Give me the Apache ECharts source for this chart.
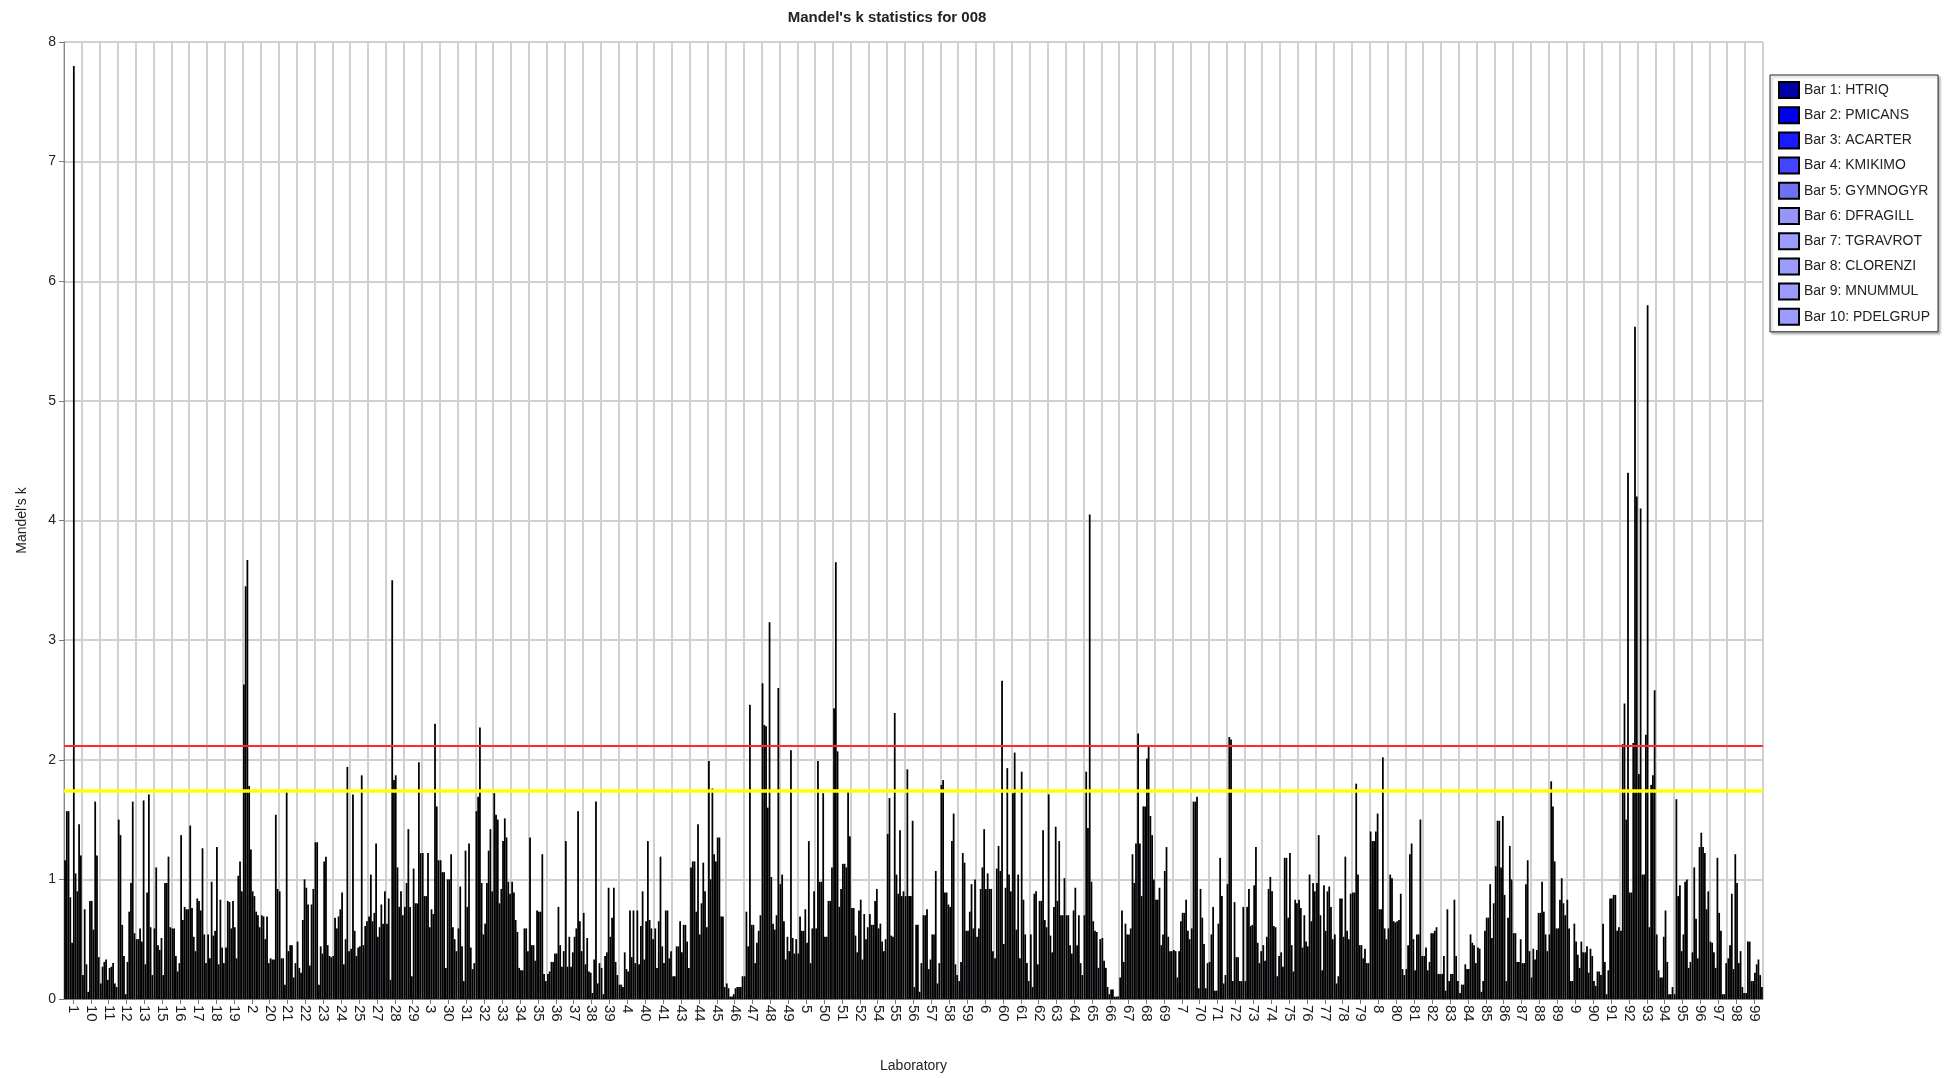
<!DOCTYPE html>
<html><head><meta charset="utf-8">
<script src="https://cdn.jsdelivr.net/npm/echarts@6/dist/echarts.min.js"></script>
<style>html,body{margin:0;padding:0;background:#fff}#c{width:1954px;height:1078px}</style>
</head><body><div id="c"></div>
<script>
const labs = ['1','10','11','12','13','15','16','17','18','19','2','20','21','22','23','24','25','27','28','29','3','30','31','32','33','34','35','36','37','38','39','4','40','41','43','44','45','46','47','48','49','5','50','51','52','54','55','56','57','58','59','6','60','61','62','63','64','65','66','67','68','69','7','70','71','72','73','74','75','76','77','78','79','8','80','81','82','83','84','85','86','87','88','89','9','90','91','92','93','94','95','96','97','98','99'];

const seriesNames = ['Bar 1: HTRIQ','Bar 2: PMICANS','Bar 3: ACARTER','Bar 4: KMIKIMO','Bar 5: GYMNOGYR','Bar 6: DFRAGILL','Bar 7: TGRAVROT','Bar 8: CLORENZI','Bar 9: MNUMMUL','Bar 10: PDELGRUP'];

const bar1 = [1.16,0.2,0.13,1.5,0.5,0.59,0.59,1.45,0.54,0.43, 2.63,0.7,0.9,0.48,1.31,0.36,0.42,0.69,0.63,0.77, 1.22,1.16,0.59,1.57,1.72,0.98,1.35,0.21,1.32,0.72, 0.26,0.12,0.74,0.59,0.19,1.1,1.99,0.13,0.19,2.64, 0.96,0.38,0.59,2.43,0.76,0.71,1.38,0.86,0.7,1.79, 0.15,0.52,0.34,1.72,0.54,1.71,0.7,0.7,0.51,0.18, 2.22,0.83,0.41,0.59,0.31,0.96,0.15,0.45,0.39,0.83, 0.97,0.54,0.89,1.4,0.59,0.25,0.36,0.21,0.05,0.43, 1.11,0.55,0.18,0.54,0.83,0.39,0.63,0.57,1.88,0.54, 0.04,0.39,0.48,0.34,0.05];
const bar2 = [1.57,0.75,0.27,1.37,0.5,1.1,0.59,0.76,0.34,0.82, 3.45,0.69,0.34,0.26,1.31,0.68,1.71,1.04,0.84,0.97, 0.86,1.06,0.94,1.69,1.54,0.89,0.45,0.23,0.27,0.29, 0.04,0.12,0.29,0.26,0.19,1.15,1.0,0.09,0.73,2.29, 1.04,0.69,1.99,3.65,0.76,0.62,1.68,1.92,0.7,1.83, 0.31,0.59,1.09,2.06,0.1,0.53,0.7,1.9,0.32,0.74, 1.3,0.83,0.4,1.65,0.54,2.19,0.77,0.32,0.27,0.76, 1.37,0.13,0.89,1.32,1.04,0.45,0.43,0.36,0.12,0.42, 1.49,0.55,0.42,1.82,0.59,0.44,0.31,2.13,4.1,0.24, 1.67,1.1,0.47,0.45,0.48];
const bar3 = [1.57,0.29,0.31,0.62,0.59,0.45,0.36,0.52,0.98,0.81, 3.67,0.5,0.34,0.22,0.12,0.59,0.57,0.65,0.16,1.42, 0.86,1.06,0.44,2.27,1.5,0.66,0.45,0.31,0.52,0.51, 0.36,0.1,0.61,0.65,0.44,1.15,1.76,0.02,0.44,2.28, 0.65,0.57,0.98,2.07,0.53,0.62,0.53,0.86,0.75,0.89, 1.22,0.92,1.28,0.58,0.88,0.39,0.45,1.43,0.26,0.31, 0.86,0.93,0.18,1.65,0.77,2.17,0.92,0.52,1.18,0.43, 0.7,0.19,1.8,1.32,1.01,1.21,0.24,0.07,0.12,0.06, 1.49,0.31,0.33,1.61,0.15,0.22,0.04,2.47,1.04,0.18, 0.86,0.67,0.39,0.88,0.48];
const bar4 = [0.85,0.06,0.33,0.36,0.48,0.41,0.23,0.4,0.53,0.59, 1.78,0.69,0.12,0.66,0.44,0.69,0.36,0.72,3.5,0.77, 1.22,0.26,0.15,0.97,0.8,0.56,0.32,0.31,0.27,0.23, 0.39,0.39,0.9,1.19,0.44,0.73,1.21,0.02,2.46,1.6, 0.33,0.57,0.98,0.77,0.39,0.82,0.52,0.86,0.25,0.89, 1.14,1.1,1.07,1.04,0.9,0.77,0.38,4.05,0.1,0.63, 1.61,0.45,0.4,1.69,0.07,0.15,0.61,0.92,1.18,0.7, 0.24,0.84,1.04,1.4,0.65,1.3,0.31,0.75,0.29,0.15, 1.1,0.31,0.41,1.15,0.15,0.42,0.24,1.5,1.04,0.18, 0.95,0.34,0.26,0.25,0.15];
const bar5 = [0.47,0.82,0.16,0.04,1.66,0.51,0.3,0.84,0.57,0.82, 1.25,0.3,1.75,1.0,0.38,0.75,0.43,1.3,1.83,0.19, 0.6,1.0,1.24,0.54,0.92,0.26,0.74,0.38,0.39,0.22, 0.93,0.25,0.33,0.44,0.65,1.46,1.15,0.04,0.62,3.15, 0.52,0.75,1.72,0.92,0.74,0.92,2.39,1.49,0.33,0.79, 0.57,1.42,2.66,0.34,0.29,1.44,0.74,0.98,0.04,0.54, 1.61,0.54,0.65,0.09,0.07,0.81,0.62,1.02,0.68,0.48, 0.95,0.84,0.45,1.55,0.64,0.5,0.55,0.15,0.25,0.57, 1.53,0.5,0.72,0.59,0.63,0.36,0.84,4.4,2.21,0.52, 0.4,1.27,1.18,1.21,0.15];
const bar6 = [7.8,0.82,0.26,0.31,0.29,0.2,1.37,0.82,1.27,0.6, 0.9,0.34,0.4,0.93,1.15,0.89,0.44,0.52,1.87,1.09, 0.75,1.0,0.77,0.63,1.32,0.24,0.73,0.38,0.52,0.05, 0.52,0.23,0.65,0.3,0.39,0.54,1.35,0.09,0.62,1.02, 0.4,0.47,0.52,1.13,0.83,0.59,1.04,0.1,0.54,0.77, 0.57,0.92,0.46,1.9,0.82,0.82,0.93,0.65,0.08,0.54, 2.01,1.07,0.72,0.92,0.63,0.35,0.95,0.9,1.22,0.44, 0.57,0.52,0.45,0.75,0.65,0.24,0.55,0.21,0.25,0.68, 0.87,0.3,0.72,0.59,0.48,0.15,0.84,0.89,5.8,0.74, 0.54,1.39,0.72,0.97,0.22];
const bar7 = [1.05,0.58,0.27,0.73,0.89,0.97,0.66,0.74,0.29,0.34, 0.86,0.33,0.45,0.79,1.19,0.29,1.87,0.6,1.1,0.8, 0.71,1.21,1.3,0.97,1.51,0.24,0.73,0.77,0.59,0.33, 0.68,0.74,1.32,0.74,0.62,0.8,1.35,0.1,0.3,0.63, 2.08,1.32,0.52,1.13,0.33,0.63,0.88,0.62,0.54,1.32, 0.73,1.05,0.93,0.83,0.82,1.32,0.45,0.57,0.08,0.59, 2.12,1.27,0.72,0.68,1.18,0.35,1.27,0.61,0.45,1.04, 0.9,1.19,0.34,0.75,0.66,0.54,0.57,0.21,0.54,0.68, 0.15,0.3,0.98,0.83,0.37,0.11,0.87,0.89,0.6,0.31, 0.98,1.27,0.57,0.3,0.29];
const bar8 = [0.9,1.65,0.3,0.97,1.71,0.97,0.77,1.26,0.83,1.03, 0.73,0.33,0.45,0.28,0.45,0.5,0.45,0.79,0.77,0.8, 2.3,0.6,0.43,1.24,1.35,0.59,1.21,0.45,1.57,1.65, 0.93,0.35,0.66,0.74,0.62,1.14,0.69,0.1,0.47,0.58, 0.51,0.3,0.82,1.1,0.71,0.48,1.41,0.62,1.07,1.55, 0.96,0.92,1.93,0.54,1.41,0.7,0.7,0.56,0.02,1.21, 1.53,0.52,0.83,0.46,0.86,0.15,0.47,0.6,0.23,0.65, 0.94,0.57,0.42,2.02,0.88,0.54,0.6,0.83,0.47,0.96, 0.68,0.96,0.73,1.01,0.26,0.23,0.87,2.14,1.79,0.04, 1.0,1.22,0.04,0.4,0.33];
const bar9 = [1.46,1.2,0.13,1.65,0.6,1.19,0.75,0.54,0.43,1.15, 0.7,1.54,0.18,0.79,0.36,1.94,0.61,0.63,0.9,1.98, 1.61,0.5,0.25,1.42,0.98,0.59,0.21,0.27,0.65,0.13, 0.31,0.74,0.59,0.34,0.48,0.9,0.69,0.1,0.57,0.7, 0.38,0.59,0.82,1.74,0.5,0.4,0.86,0.06,0.13,0.29, 0.59,0.92,1.04,0.3,0.66,0.7,0.3,0.26,0.02,0.97, 1.37,0.4,0.57,0.09,0.13,0.15,0.3,0.19,0.83,0.97, 0.77,0.5,0.3,0.59,0.25,1.5,0.21,0.36,0.45,0.51, 1.28,1.16,0.54,0.8,0.48,0.23,0.57,5.62,1.87,0.04, 0.26,0.75,0.04,0.1,0.2];
const bar10 = [1.2,0.35,0.1,0.55,0.2,0.6,0.75,0.3,0.3,0.9, 0.6,0.92,0.3,0.92,0.35,0.4,0.65,0.9,0.7,1.22, 1.16,0.4,0.3,0.9,0.88,0.4,0.15,0.4,0.4,0.3, 0.2,0.3,0.5,0.4,0.26,0.6,0.1,0.19,0.7,2.6, 0.5,0.9,1.1,1.36,0.6,0.5,0.9,0.3,0.3,0.2, 1.0,0.4,0.9,0.15,0.6,1.01,0.2,0.5,0.02,1.3, 1.0,0.4,0.5,0.3,0.2,0.77,0.4,0.36,0.8,0.9, 0.5,0.88,0.3,0.5,0.2,0.36,0.21,0.15,0.3,0.8, 1.0,0.4,0.4,0.7,0.39,0.2,0.6,4.2,2.58,0.1, 0.31,0.9,0.3,0.05,0.1];

// flagged bars: [laboratory, bar index]
const redFlags = [['2',1],['72',2],['92',4],['92',9],['93',5],['93',9]];
const yellowFlags = [['29',8],['45',2],['51',8],['65',1],['89',1]];

const limit1 = 2.12;   // red critical line
const limit5 = 1.735;  // yellow critical line

const allBars = [bar1,bar2,bar3,bar4,bar5,bar6,bar7,bar8,bar9,bar10];
const colors = ['#0000a8','#0000ee','#1a1aff','#4545ff','#7070f2','#9696f8','#9c9cff','#9c9cff','#9c9cff','#9c9cff'];
const FONT = 'Liberation Sans, Arial, sans-serif';

function flagColor(lab, s){
  if (redFlags.some(f => f[0]===lab && f[1]===s)) return '#ff0000';
  if (yellowFlags.some(f => f[0]===lab && f[1]===s)) return '#ffff00';
  return null;
}

const series = allBars.map((arr, s) => ({
  name: seriesNames[s],
  type: 'bar',
  barGap: '0%',
  barCategoryGap: '2%',
  z: 3,
  itemStyle: { color: colors[s], borderColor: '#000', borderWidth: 1.2 },
  emphasis: { disabled: true },
  data: arr.map((v, i) => {
    const c = flagColor(labs[i], s);
    return c ? { value: v, itemStyle: { color: c } } : v;
  })
}));
series.push({
  type: 'line', data: [], z: 1, silent: true,
  markLine: {
    symbol: 'none', silent: true, label: { show: false }, animation: false,
    data: [
      { yAxis: limit1, lineStyle: { color: '#ff2a2a', width: 2, type: 'solid' } },
      { yAxis: limit5, lineStyle: { color: '#ffff00', width: 3.5, type: 'solid' } }
    ]
  }
});

const chart = echarts.init(document.getElementById('c'));
chart.setOption({
  animation: false,
  backgroundColor: '#ffffff',
  title: {
    text: "Mandel's k statistics for 008",
    left: 882, top: 5, textAlign: 'center',
    textStyle: { fontSize: 15, fontWeight: 'bold', color: '#222', fontFamily: FONT }
  },
  legend: {
    orient: 'vertical', left: 1770, top: 75,
    icon: 'rect', itemWidth: 20, itemHeight: 16, itemGap: 7.2,
    padding: [6, 8, 6, 8],
    borderColor: '#222', borderWidth: 1, backgroundColor: '#fff',
    shadowColor: 'rgba(0,0,0,0.25)', shadowOffsetX: 2, shadowOffsetY: 2, shadowBlur: 2,
    textStyle: { fontSize: 14, color: '#222', fontFamily: FONT },
    data: seriesNames
  },
  grid: { left: 64, right: 191, top: 42, bottom: 77, containLabel: false },
  xAxis: {
    type: 'category', data: labs, boundaryGap: true,
    name: 'Laboratory', nameLocation: 'middle', nameGap: 60,
    nameTextStyle: { fontSize: 14, color: '#222', fontFamily: FONT },
    axisLine: { lineStyle: { color: '#888', width: 1 } },
    axisTick: { show: true, alignWithLabel: true, length: 5, lineStyle: { color: '#777' } },
    axisLabel: { interval: 0, rotate: -90, fontSize: 15, color: '#1a1a1a', margin: 6, fontFamily: FONT },
    splitLine: { show: true, interval: 0, lineStyle: { color: '#d0d0d0', width: 2 } }
  },
  yAxis: {
    type: 'value', min: 0, max: 8, interval: 1,
    name: "Mandel's k", nameLocation: 'middle', nameGap: 35,
    nameTextStyle: { fontSize: 14, color: '#222', fontFamily: FONT },
    axisLine: { show: true, lineStyle: { color: '#888', width: 1 } },
    axisTick: { show: true, length: 5, lineStyle: { color: '#777' } },
    axisLabel: { fontSize: 14, color: '#222', margin: 8, fontFamily: FONT },
    splitLine: { show: true, lineStyle: { color: '#d0d0d0', width: 2 } }
  },
  series: series
});
</script>
</body></html>
